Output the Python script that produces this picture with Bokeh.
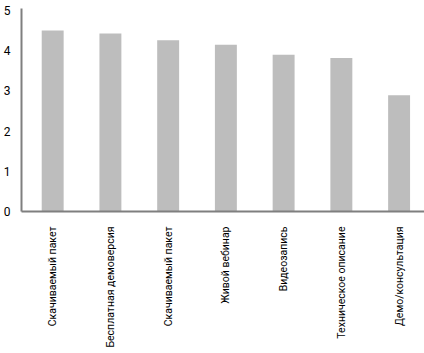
import math
from bokeh.plotting import figure
from bokeh.models import ColumnDataSource, FixedTicker, Range1d
from bokeh.embed import file_html
from bokeh.resources import INLINE

categories = ["Скачиваемый пакет", "Бесплатная демоверсия", "Скачиваемый пакет",
              "Живой вебинар", "Видеозапись", "Техническое описание", "Демо/консультация"]
values = [4.50, 4.43, 4.26, 4.15, 3.90, 3.82, 2.89]
y_ticks = [0, 1, 2, 3, 4, 5]

xs = list(range(len(categories)))
src = ColumnDataSource(dict(x=xs, top=values))

FONT = "Roboto"

p = figure(frame_width=403, frame_height=203, output_backend="svg", toolbar_location=None,
           x_range=Range1d(-0.54, 6.44), y_range=Range1d(0, 5.05),
           min_border_left=0, min_border_right=4, min_border_top=8, min_border_bottom=4)
p.vbar(x="x", top="top", width=0.38, bottom=0, source=src, color="#bdbdbd", line_color=None)

p.outline_line_color = None
p.xgrid.visible = False
p.ygrid.visible = False

for ax in (p.xaxis[0], p.yaxis[0]):
    ax.axis_line_color = "#7f7f7f"
    ax.axis_line_width = 2
    ax.major_tick_line_color = None
    ax.minor_tick_line_color = None
    ax.major_label_text_font = FONT
    ax.major_label_text_color = "#000000"

p.xaxis.major_label_text_font_size = "10.5px"
p.yaxis.major_label_text_font_size = "12px"

p.xaxis.ticker = FixedTicker(ticks=xs)
p.xaxis.major_label_overrides = {i: c for i, c in enumerate(categories)}
p.xaxis.major_label_orientation = math.pi / 2
p.xaxis.major_label_standoff = 9

p.yaxis.ticker = FixedTicker(ticks=y_ticks)
p.yaxis.major_label_standoff = 5

open("out.html", "w").write(file_html(p, INLINE))
